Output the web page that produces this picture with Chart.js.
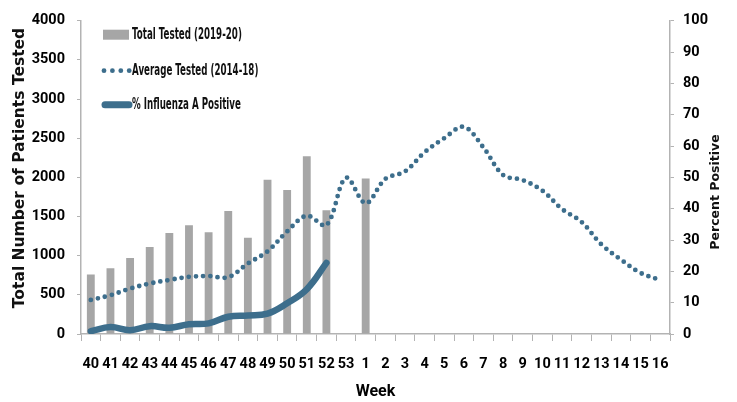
<!DOCTYPE html>
<html>
<head>
<meta charset="utf-8">
<script src="https://cdn.jsdelivr.net/npm/chart.js@4.4.1/dist/chart.umd.min.js"></script>
<style>
  html, body { margin: 0; padding: 0; background: #fff; }
  #wrap { width: 737px; height: 402px; position: relative; }
</style>
</head>
<body>
<div id="wrap"><canvas id="fluChart"></canvas></div>
<script>
// weeks of the season, 40..53 then 1..16
const weeks = ["40", "41", "42", "43", "44", "45", "46", "47", "48", "49", "50", "51", "52", "53",
  "1", "2", "3", "4", "5", "6", "7", "8", "9", "10", "11", "12", "13", "14", "15", "16"];

// Total tested 2019-20 (left axis)
const totalTested = [760, 840, 970, 1110, 1290, 1390, 1300, 1570, 1230, 1970, 1840, 2270, 1580, null,
  1985, null, null, null, null, null, null, null, null, null, null, null, null, null, null, null];

// Average tested 2014-18 (left axis)
const avgTested = [435, 495, 580, 645, 690, 730, 740, 725, 900, 1055, 1310, 1510, 1390, 1995,
  1670, 1980, 2075, 2320, 2500, 2645, 2380, 2030, 1965, 1830, 1595, 1430, 1145, 950, 780, 690];

// % influenza A positive (right axis)
const pctFluA = [0.9, 2.2, 1.2, 2.5, 2.0, 3.1, 3.4, 5.5, 5.9, 6.5, 9.8, 14.3, 22.7];

const leftTicks = [0, 500, 1000, 1500, 2000, 2500, 3000, 3500, 4000];

const BAR_GREY = "#a6a6a6";
const LINE_BLUE = "#3d6e8c";
const AXIS_GREY = "#b3b3b3";
const TICK_FONT = "Roboto, 'Liberation Sans', sans-serif";
const TITLE_FONT = "'DejaVu Sans', sans-serif";

// legend inside the plot area + both rotated axis titles
const extras = {
  id: "extras",
  afterDraw(chart) {
    const { ctx, chartArea } = chart;
    const x0 = chartArea.left + 22;
    const tx = chartArea.left + 51;
    const rows = [chartArea.top + 14, chartArea.top + 50, chartArea.top + 84];
    ctx.save();

    ctx.fillStyle = BAR_GREY;
    ctx.fillRect(x0, rows[0] - 5, 26, 10);

    ctx.fillStyle = LINE_BLUE;
    for (let i = 0; i < 4; i++) {
      ctx.beginPath();
      ctx.arc(x0 + 1 + i * 8.4, rows[1], 2.4, 0, Math.PI * 2);
      ctx.fill();
    }

    ctx.strokeStyle = LINE_BLUE;
    ctx.lineWidth = 7;
    ctx.lineCap = "round";
    ctx.beginPath();
    ctx.moveTo(x0 + 2, rows[2]);
    ctx.lineTo(x0 + 26, rows[2]);
    ctx.stroke();

    ctx.fillStyle = "#111";
    ctx.font = "bold 15px " + TITLE_FONT;
    ctx.textBaseline = "middle";
    ctx.textAlign = "left";
    const labels = ["Total Tested (2019-20)", "Average Tested (2014-18)", "% Influenza A Positive"];
    labels.forEach((t, i) => {
      ctx.save();
      ctx.translate(tx, rows[i]);
      ctx.scale(0.58, 1);
      ctx.fillText(t, 0, 0);
      ctx.restore();
    });

    // axis titles, both reading bottom to top
    ctx.textAlign = "center";
    ctx.save();
    ctx.translate(20, 168);
    ctx.rotate(-Math.PI / 2);
    ctx.font = "bold 15.5px " + TITLE_FONT;
    ctx.fillText("Total Number of Patients Tested", 0, 0);
    ctx.restore();

    ctx.save();
    ctx.translate(716, 192);
    ctx.rotate(-Math.PI / 2);
    ctx.font = "bold 12.5px " + TITLE_FONT;
    ctx.fillText("Percent Positive", 0, 0);
    ctx.restore();

    ctx.restore();
  }
};

new Chart(document.getElementById("fluChart"), {
  type: "bar",
  data: {
    labels: weeks,
    datasets: [
      {
        type: "line",
        label: "% Influenza A Positive",
        data: pctFluA,
        yAxisID: "yPct",
        borderColor: LINE_BLUE,
        borderWidth: 6.5,
        borderCapStyle: "round",
        pointRadius: 0,
        tension: 0.4,
        order: 1
      },
      {
        type: "line",
        label: "Average Tested (2014-18)",
        data: avgTested,
        yAxisID: "y",
        borderColor: LINE_BLUE,
        borderWidth: 4.8,
        borderDash: [0, 7.2],
        borderCapStyle: "round",
        pointRadius: 0,
        tension: 0.35,
        order: 2
      },
      {
        label: "Total Tested (2019-20)",
        data: totalTested,
        yAxisID: "y",
        backgroundColor: BAR_GREY,
        barPercentage: 0.4,
        categoryPercentage: 1.0,
        order: 3
      }
    ]
  },
  options: {
    responsive: true,
    maintainAspectRatio: false,
    animation: false,
    layout: { padding: { top: 15, left: 0, right: 0, bottom: 0 } },
    plugins: {
      legend: { display: false },
      tooltip: { enabled: false }
    },
    scales: {
      x: {
        offset: true,
        grid: {
          offset: true,
          drawOnChartArea: false,
          drawTicks: true,
          tickLength: 7,
          color: AXIS_GREY
        },
        border: { color: AXIS_GREY, width: 1.5 },
        ticks: {
          color: "#000",
          font: { family: TICK_FONT, size: 14.5, weight: "bold" },
          padding: 15,
          maxRotation: 0,
          autoSkip: false
        },
        title: {
          display: true,
          text: "Week",
          color: "#000",
          font: { family: TICK_FONT, size: 16, weight: "bold" },
          padding: { top: 0, bottom: 0 }
        },
        afterFit(scale) { scale.height = 68; }
      },
      y: {
        position: "left",
        min: 0,
        max: 4000,
        afterBuildTicks(scale) { scale.ticks = leftTicks.map((v) => ({ value: v })); },
        grid: {
          drawOnChartArea: false,
          drawTicks: true,
          tickLength: 4,
          color: AXIS_GREY
        },
        border: { color: AXIS_GREY, width: 1.5 },
        ticks: {
          color: "#000",
          font: { family: TICK_FONT, size: 14.5, weight: "bold" },
          padding: 12,
          callback: (v) => String(v)
        },
        afterFit(scale) { scale.width = 81; }
      },
      yPct: {
        position: "right",
        min: 0,
        max: 100,
        ticks: {
          stepSize: 10,
          color: "#000",
          font: { family: TICK_FONT, size: 14.5, weight: "bold" },
          padding: 9
        },
        grid: {
          drawOnChartArea: false,
          drawTicks: true,
          tickLength: 4,
          color: AXIS_GREY
        },
        border: { color: AXIS_GREY, width: 1.5 },
        afterFit(scale) { scale.width = 67; }
      }
    }
  },
  plugins: [extras]
});
</script>
</body>
</html>
